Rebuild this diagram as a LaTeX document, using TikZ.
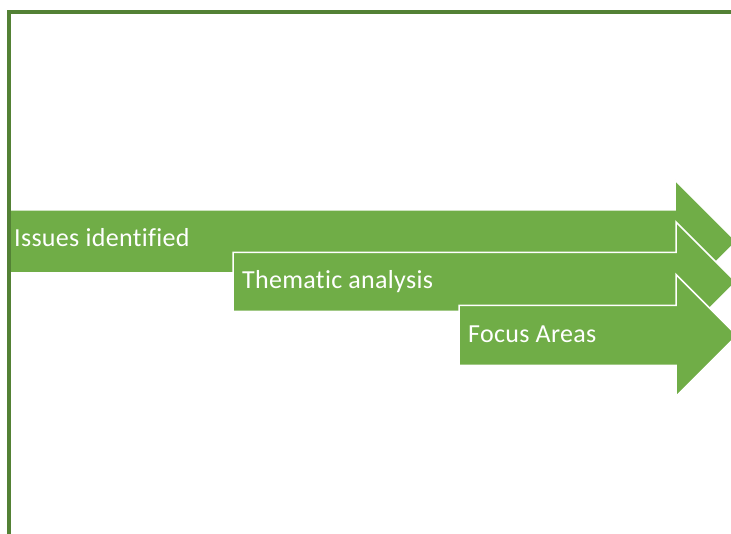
\documentclass[tikz,border=0pt]{standalone}
\usepackage{fontspec}
\setmainfont{Carlito}[Ligatures={NoCommon,NoRequired}, LetterSpace=1.2]
\definecolor{arrowgreen}{HTML}{70AD47}
\definecolor{framegreen}{HTML}{538135}
\tikzset{
  stagearrow/.style={fill=arrowgreen, draw=white, line width=1.5pt, line join=miter},
  stagelabel/.style={anchor=base west, inner sep=0pt, text=white,
                     font=\fontsize{26}{30}\selectfont},
  framerule/.style={draw=framegreen, line width=4pt, line join=miter}
}
% block arrow: left end, centre line, half body, half head, start of head
\newcommand{\blockarrow}[5]{%
  \draw[stagearrow] (#1,#2-#3) -- (#5,#2-#3) -- (#5,#2-#4) -- (#5+#4,#2)
    -- (#5,#2+#4) -- (#5,#2+#3) -- (#1,#2+#3) -- cycle;}

\begin{document}
\begin{tikzpicture}[x=1pt, y=-1pt]
\clip (0,0) rectangle (731,534);

% Stages, each one overlapping the last
\blockarrow{9}{241.5}{31.5}{61.5}{675}
\node[stagelabel] (issues) at (14,247) {Issues identified};

\blockarrow{233}{282}{29.5}{60}{676}
\node[stagelabel] (thematic) at (242,289) {Thematic analysis};

\blockarrow{459}{335.5}{30}{61}{676}
\node[stagelabel] (focus) at (468,343) {Focus Areas};

% Frame
\draw[framerule] (8.5,545) -- (8.5,12) -- (745,12);
\end{tikzpicture}
\end{document}
